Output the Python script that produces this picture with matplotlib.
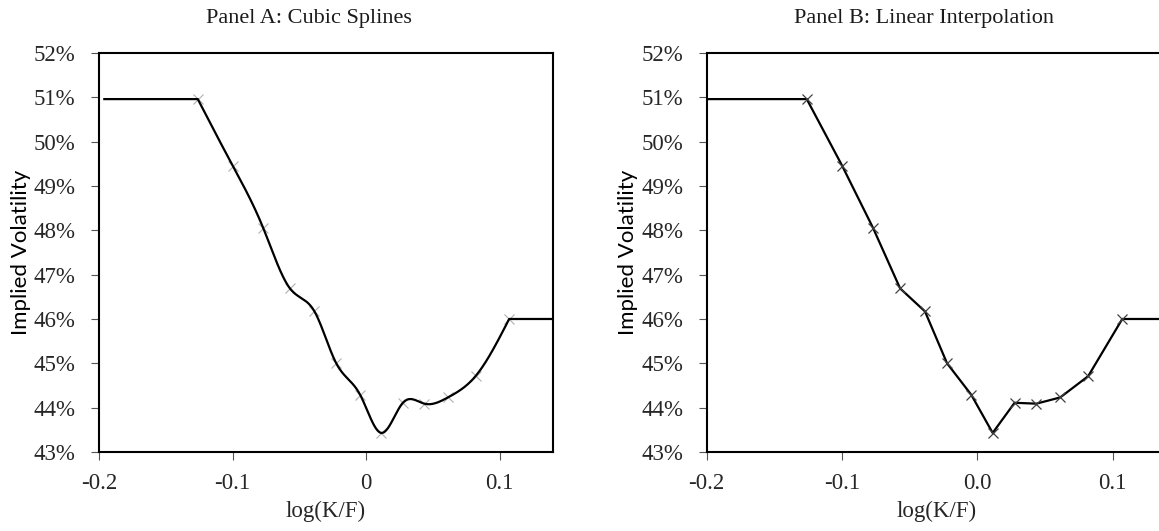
import numpy as np
import matplotlib
matplotlib.use("Agg")
import matplotlib.pyplot as plt

# ---- data (knots) ----
log_kf = [-0.126, -0.0999, -0.0771, -0.0570, -0.0386, -0.0223, -0.0044,
          0.0114, 0.0276, 0.0437, 0.0613, 0.0820, 0.1072]
implied_vol = [50.96, 49.46, 48.06, 46.69, 46.17, 45.00, 44.29,
               43.43, 44.11, 44.09, 44.23, 44.71, 46.00]
flat_left_A = -0.196
flat_left_B = -0.200
flat_right = 0.145
x_ticks = [-0.2, -0.1, 0.0, 0.1]
x_labels_A = ["-0.2", "-0.1", "0", "0.1"]
x_labels_B = ["-0.2", "-0.1", "0.0", "0.1"]
y_ticks = [43, 44, 45, 46, 47, 48, 49, 50, 51, 52]
y_labels = [f"{v}%" for v in y_ticks]
titles = ["Panel A: Cubic Splines", "Panel B: Linear Interpolation"]


def natural_spline(x, y, xs):
    x = np.asarray(x, float); y = np.asarray(y, float)
    n = len(x)
    h = np.diff(x)
    A = np.zeros((n, n)); r = np.zeros(n)
    A[0, 0] = 1; A[-1, -1] = 1
    for i in range(1, n - 1):
        A[i, i - 1] = h[i - 1]
        A[i, i] = 2 * (h[i - 1] + h[i])
        A[i, i + 1] = h[i]
        r[i] = 6 * ((y[i + 1] - y[i]) / h[i] - (y[i] - y[i - 1]) / h[i - 1])
    M = np.linalg.solve(A, r)
    idx = np.clip(np.searchsorted(x, xs) - 1, 0, n - 2)
    x0 = x[idx]; x1 = x[idx + 1]; hh = x1 - x0
    a = (x1 - xs) / hh; b = (xs - x0) / hh
    return (a * y[idx] + b * y[idx + 1]
            + ((a ** 3 - a) * M[idx] + (b ** 3 - b) * M[idx + 1]) * hh ** 2 / 6)


serif = ["Liberation Serif", "DejaVu Serif"]
sans = ["Lato", "DejaVu Sans"]
tick_color = "#262626"

fig = plt.figure(figsize=(11.59, 5.31), dpi=100)
axA = fig.add_axes([0.0854, 0.1488, 0.3917, 0.7514])
axB = fig.add_axes([0.6097, 0.1488, 0.3969, 0.7514])

# Panel A: spline
xs = np.linspace(log_kf[0], log_kf[-1], 600)
ys = natural_spline(log_kf, implied_vol, xs)
xA = np.concatenate([[flat_left_A], xs, [flat_right]])
yA = np.concatenate([[implied_vol[0]], ys, [implied_vol[-1]]])
axA.plot(xA, yA, color="black", lw=1.6, zorder=3)
axA.plot(log_kf, implied_vol, ls="none", marker="x", ms=6.5, mew=0.8,
         color="#b0b0b0", zorder=2)

# Panel B: linear
xB = [flat_left_B] + log_kf + [flat_right]
yB = [implied_vol[0]] + implied_vol + [implied_vol[-1]]
axB.plot(xB, yB, color="black", lw=1.6, zorder=3)
axB.plot(log_kf, implied_vol, ls="none", marker="x", ms=7, mew=0.9,
         color="#404040", zorder=4)

centers = [309, 924]
for ax, xl, title, cx in zip([axA, axB], [x_labels_A, x_labels_B], titles, centers):
    ax.set_xlim(-0.2, 0.14)
    ax.set_ylim(43, 52)
    ax.set_xticks(x_ticks)
    ax.set_xticklabels(xl, fontfamily=serif, fontsize=16.5, color=tick_color)
    ax.set_yticks(y_ticks)
    ax.set_yticklabels(y_labels, fontfamily=serif, fontsize=16.5, color=tick_color)
    ax.tick_params(direction="out", length=6, width=0.8, color="#555555", pad=9)
    ax.tick_params(axis="y", pad=11)
    for s in ax.spines.values():
        s.set_linewidth(1.5)
        s.set_color("black")
    ax.set_xlabel("log(K/F)", fontfamily=serif, fontsize=16.5, color=tick_color, labelpad=5)
    ax.set_ylabel("Implied Volatility", fontfamily=sans, fontsize=16, color="black", labelpad=2)
    fig.text(cx / 1159, 1 - 19 / 531, title, ha="center", va="center",
             fontfamily=serif, fontsize=16, color="#1a1a1a")

fig.savefig("out.png", dpi=100)
